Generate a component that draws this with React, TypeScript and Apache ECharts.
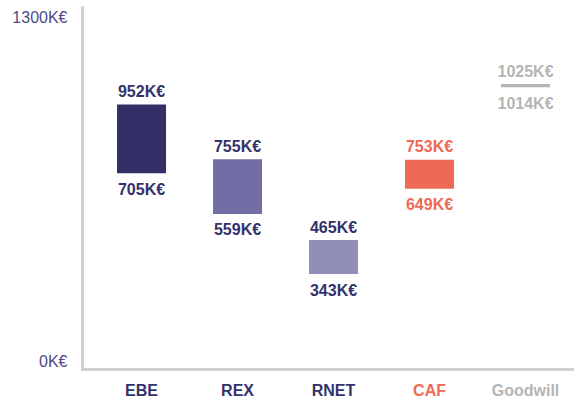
import React, { useEffect, useRef } from "react";
import * as echarts from "echarts";

const categories = ["EBE", "REX", "RNET", "CAF", "Goodwill"];
const lowValues = [705, 559, 343, 649, 1014];
const highValues = [952, 755, 465, 753, 1025];
const barColors = ["#312f66", "#716ea6", "#918eba", "#ee6a55", "#b5b5b5"];
const labelColors = ["#33336b", "#33336b", "#33336b", "#ee6a55", "#b5b5b5"];
const yTicks = [0, 1300];

const FONT = "Arial, 'Liberation Sans', sans-serif";

export default function App() {
  const ref = useRef<HTMLDivElement>(null);
  useEffect(() => {
    if (!ref.current) return;
    const chart = echarts.init(ref.current, null, { renderer: "svg" });
    const data = categories.map((c, i) => [i, lowValues[i], highValues[i]]);
    chart.setOption({
      animation: false,
      grid: { left: 82.5, right: 0, top: 7.5, bottom: 35.4 },
      xAxis: {
        type: "value",
        min: -0.615,
        max: 4.505,
        splitLine: { show: false },
        axisTick: { show: false },
        axisLine: { show: true, onZero: false, lineStyle: { color: "#d0d0d0", width: 3 } },
        axisLabel: {
          customValues: [0, 1, 2, 3, 4],
          formatter: (v: number) => categories[Math.round(v)] ?? "",
          color: (v: number) => labelColors[Math.round(v)] ?? "#33336b",
          fontFamily: FONT,
          fontSize: 16,
          fontWeight: "bold",
          margin: 13,
        },
      },
      yAxis: {
        type: "value",
        min: yTicks[0],
        max: yTicks[1],
        interval: 1300,
        splitLine: { show: false },
        axisTick: { show: false },
        axisLine: { show: true, onZero: false, lineStyle: { color: "#d0d0d0", width: 3 } },
        axisLabel: {
          formatter: (v: number) => `${v}K€`,
          color: "#4c4a88",
          fontFamily: FONT,
          fontSize: 16,
          margin: 15,
          verticalAlignMaxLabel: "top",
          verticalAlignMinLabel: "bottom",
          padding: [2, 0, 0, 0],
        },
      },
      series: [
        {
          type: "custom",
          data,
          encode: { x: 0, y: [1, 2] },
          renderItem: (params: any, api: any) => {
            const i = api.value(0);
            const lo = api.value(1);
            const hi = api.value(2);
            const pLo = api.coord([i, lo]);
            const pHi = api.coord([i, hi]);
            const w = 49;
            const idx = params.dataIndex;
            return {
              type: "group",
              children: [
                {
                  type: "rect",
                  shape: { x: pLo[0] - w / 2, y: pHi[1], width: w, height: pLo[1] - pHi[1] },
                  style: { fill: barColors[idx] },
                },
                {
                  type: "text",
                  style: {
                    text: `${hi}K€`,
                    x: pHi[0],
                    y: pHi[1] - 5,
                    align: "center",
                    verticalAlign: "bottom",
                    fill: labelColors[idx],
                    font: `bold 16px ${FONT}`,
                  },
                },
                {
                  type: "text",
                  style: {
                    text: `${lo}K€`,
                    x: pLo[0],
                    y: pLo[1] + 8,
                    align: "center",
                    verticalAlign: "top",
                    fill: labelColors[idx],
                    font: `bold 16px ${FONT}`,
                  },
                },
              ],
            };
          },
        },
      ],
    });
    return () => chart.dispose();
  }, []);
  return (
    <div
      ref={ref}
      style={{ position: "fixed", left: 0, top: 0, width: 574, height: 405, background: "#fff" }}
    />
  );
}
